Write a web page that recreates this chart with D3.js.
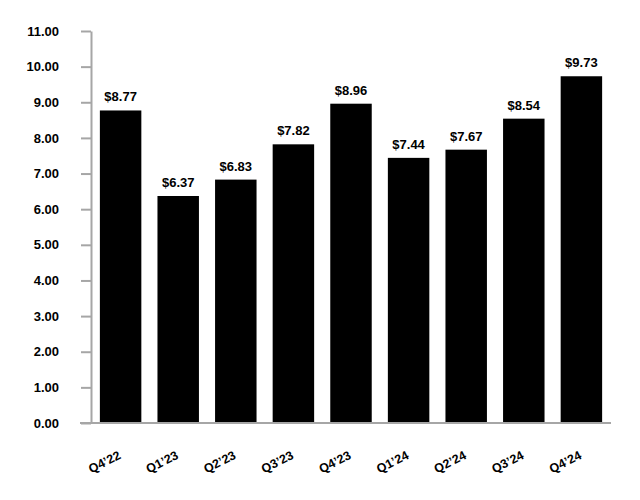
<!DOCTYPE html>
<html><head><meta charset="utf-8">
<script src="https://cdn.jsdelivr.net/npm/d3@7"></script>
<style>body{margin:0;background:#fff}text{font-family:"Liberation Sans",Arial,sans-serif;font-weight:bold;fill:#000}</style>
</head><body><svg id="c" width="640" height="500"></svg>
<script>
const categories = ["Q4’22","Q1’23","Q2’23","Q3’23","Q4’23","Q1’24","Q2’24","Q3’24","Q4’24"];
const values = [8.77,6.37,6.83,7.82,8.96,7.44,7.67,8.54,9.73];
const yTicks = [0,1,2,3,4,5,6,7,8,9,10,11];

const svg = d3.select("#c");
const x = d3.scaleBand().domain(categories).range([91,611]).paddingInner(0.28).paddingOuter(0.154);
const y = d3.scaleLinear().domain([0,11]).range([423,31]);

svg.selectAll("rect.bar").data(values).enter().append("rect")
  .attr("x",(d,i)=>x(categories[i])).attr("width",x.bandwidth())
  .attr("y",d=>y(d)).attr("height",d=>y(0)-y(d)).attr("fill","#000");

svg.selectAll("text.val").data(values).enter().append("text")
  .attr("x",(d,i)=>x(categories[i])+x.bandwidth()/2).attr("y",d=>y(d)-9)
  .attr("text-anchor","middle").attr("font-size","13px").text(d=>"$"+d.toFixed(2));

const ya = svg.append("g").attr("transform","translate(91,0)")
  .call(d3.axisLeft(y).tickValues(yTicks).tickFormat(d3.format(".2f")).tickSize(10).tickSizeOuter(0).tickPadding(22));
ya.select(".domain").attr("stroke","#a6a6a6").attr("stroke-width",2);
ya.selectAll(".tick line").attr("stroke","#a6a6a6").attr("stroke-width",2);
ya.selectAll("text").attr("font-size","13px").attr("font-family","Liberation Sans, Arial, sans-serif").attr("font-weight","bold").attr("fill","#000");

svg.append("line").attr("x1",80).attr("x2",611).attr("y1",y(0)).attr("y2",y(0)).attr("stroke","#a6a6a6").attr("stroke-width",2);

svg.selectAll("text.cat").data(categories).enter().append("text")
  .attr("text-anchor","end").attr("font-size","12.5px")
  .attr("transform",d=>`translate(${x(d)+x.bandwidth()/2+1},${y(0)+35}) rotate(-27)`)
  .text(d=>d);
</script></body></html>
